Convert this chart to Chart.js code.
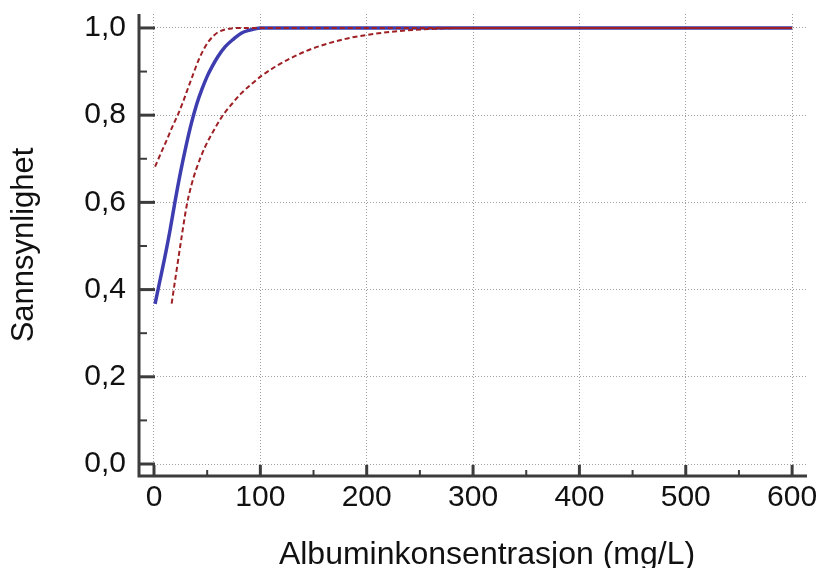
<!DOCTYPE html>
<html>
<head>
<meta charset="utf-8">
<script src="https://cdn.jsdelivr.net/npm/chart.js@4/dist/chart.umd.min.js"></script>
<style>
  html, body { margin: 0; padding: 0; background: #fff; }
  #wrap { width: 820px; height: 568px; }
</style>
</head>
<body>
<div id="wrap"><canvas id="myChart"></canvas></div>
<script>
  // Data
  const fitX = [1, 5, 10, 15, 20, 25, 30, 35, 40, 45, 50, 55, 60, 67, 75, 82, 90, 100, 600];
  const fitY = [0.367, 0.414, 0.472, 0.535, 0.605, 0.67, 0.728, 0.78, 0.824, 0.859, 0.889, 0.913, 0.934, 0.957, 0.975, 0.988, 0.995, 1.0, 1.0];

  const upperX = [1, 6, 12, 17, 23, 28, 32, 37, 42, 47, 51, 56, 60, 66, 73, 85, 600];
  const upperY = [0.682, 0.71, 0.743, 0.772, 0.804, 0.835, 0.862, 0.895, 0.927, 0.952, 0.968, 0.982, 0.99, 0.996, 0.999, 1.0, 1.0];

  const lowerX = [16.6, 21.3, 26, 30.7, 35, 40, 48, 56, 64, 73, 82, 92, 101, 114, 128, 143, 159, 180, 200, 231, 263, 290, 600];
  const lowerY = [0.368, 0.445, 0.521, 0.592, 0.638, 0.678, 0.727, 0.764, 0.797, 0.825, 0.85, 0.872, 0.89, 0.911, 0.93, 0.947, 0.961, 0.975, 0.984, 0.993, 0.998, 1.0, 1.0];

  const xTicks = [0, 100, 200, 300, 400, 500, 600];
  const yTicks = [0, 0.2, 0.4, 0.6, 0.8, 1.0];
  const xMinor = [50, 150, 250, 350, 450, 550];
  const yMinor = [0.1, 0.3, 0.5, 0.7, 0.9];

  const xTitle = 'Albuminkonsentrasjon (mg/L)';

  const toPoints = (xs, ys) => xs.map((x, i) => ({ x: x, y: ys[i] }));

  // Axis lines with ticks pointing into the plot, plus the x title
  const axesPlugin = {
    id: 'axesPlugin',
    afterDraw(chart) {
      const ctx = chart.ctx;
      const area = chart.chartArea;
      const xs = chart.scales.x;
      const ys = chart.scales.y;
      ctx.save();
      ctx.strokeStyle = '#3c3c3c';
      ctx.lineCap = 'butt';

      ctx.lineWidth = 3;
      ctx.beginPath();
      ctx.moveTo(area.left, area.top);
      ctx.lineTo(area.left, area.bottom);
      ctx.lineTo(area.right, area.bottom);
      ctx.stroke();

      yTicks.forEach(v => {
        const p = ys.getPixelForValue(v);
        ctx.beginPath();
        ctx.moveTo(area.left, p);
        ctx.lineTo(area.left + 16, p);
        ctx.stroke();
      });
      xTicks.forEach(v => {
        const p = xs.getPixelForValue(v);
        ctx.beginPath();
        ctx.moveTo(p, area.bottom);
        ctx.lineTo(p, area.bottom - 11);
        ctx.stroke();
      });

      ctx.lineWidth = 2;
      yMinor.forEach(v => {
        const p = ys.getPixelForValue(v);
        ctx.beginPath();
        ctx.moveTo(area.left, p);
        ctx.lineTo(area.left + 8, p);
        ctx.stroke();
      });
      xMinor.forEach(v => {
        const p = xs.getPixelForValue(v);
        ctx.beginPath();
        ctx.moveTo(p, area.bottom);
        ctx.lineTo(p, area.bottom - 6);
        ctx.stroke();
      });

      ctx.fillStyle = '#111';
      ctx.font = '32px "Liberation Sans"';
      ctx.textAlign = 'center';
      ctx.textBaseline = 'alphabetic';
      ctx.fillText(xTitle, 487, 564);
      ctx.restore();
    }
  };

  const ctx = document.getElementById('myChart');

  const config = {
    type: 'line',
    data: {
      datasets: [
        {
          label: 'Øvre',
          data: toPoints(upperX, upperY),
          borderColor: '#9e2024',
          borderWidth: 2,
          borderDash: [5, 3],
          pointRadius: 0,
          cubicInterpolationMode: 'monotone'
        },
        {
          label: 'Nedre',
          data: toPoints(lowerX, lowerY),
          borderColor: '#9e2024',
          borderWidth: 2,
          borderDash: [5, 3],
          pointRadius: 0,
          cubicInterpolationMode: 'monotone'
        },
        {
          label: 'Sannsynlighet',
          data: toPoints(fitX, fitY),
          borderColor: '#3d3db0',
          borderWidth: 3.5,
          pointRadius: 0,
          cubicInterpolationMode: 'monotone'
        }
      ]
    },
    options: {
      responsive: true,
      maintainAspectRatio: false,
      animation: false,
      layout: { padding: { top: 14, right: 13, left: 0, bottom: 0 } },
      plugins: {
        legend: { display: false },
        tooltip: { enabled: false }
      },
      scales: {
        x: {
          type: 'linear',
          min: -14.1,
          max: 614,
          afterBuildTicks: s => { s.ticks = xTicks.map(v => ({ value: v })); },
          afterFit: s => {
            s.height = 92;
            s.paddingLeft = 0; s.paddingRight = 0;
            s.paddingTop = 0; s.paddingBottom = 0;
          },
          grid: { color: '#a0a0a0', lineWidth: 1, drawTicks: false },
          border: { display: false, dash: [1, 2] },
          ticks: {
            padding: 4,
            maxRotation: 0,
            color: '#111',
            font: { family: 'Liberation Sans', size: 30 },
            callback: v => String(v)
          }
        },
        y: {
          type: 'linear',
          min: -0.0275,
          max: 1.032,
          afterBuildTicks: s => { s.ticks = yTicks.map(v => ({ value: v })); },
          afterFit: s => {
            s.width = 139;
            s.paddingLeft = 0; s.paddingRight = 0;
            s.paddingTop = 0; s.paddingBottom = 0;
          },
          grid: { color: '#a0a0a0', lineWidth: 1, drawTicks: false },
          border: { display: false, dash: [1, 2] },
          ticks: {
            padding: 13,
            color: '#111',
            font: { family: 'Liberation Sans', size: 30 },
            callback: v => v.toFixed(1).replace('.', ',')
          },
          title: {
            display: true,
            text: 'Sannsynlighet',
            color: '#111',
            font: { family: 'Liberation Sans', size: 31 },
            padding: { top: 6, bottom: 0 }
          }
        }
      }
    },
    plugins: [axesPlugin]
  };

  const myChart = new Chart(ctx, config);
</script>
</body>
</html>
